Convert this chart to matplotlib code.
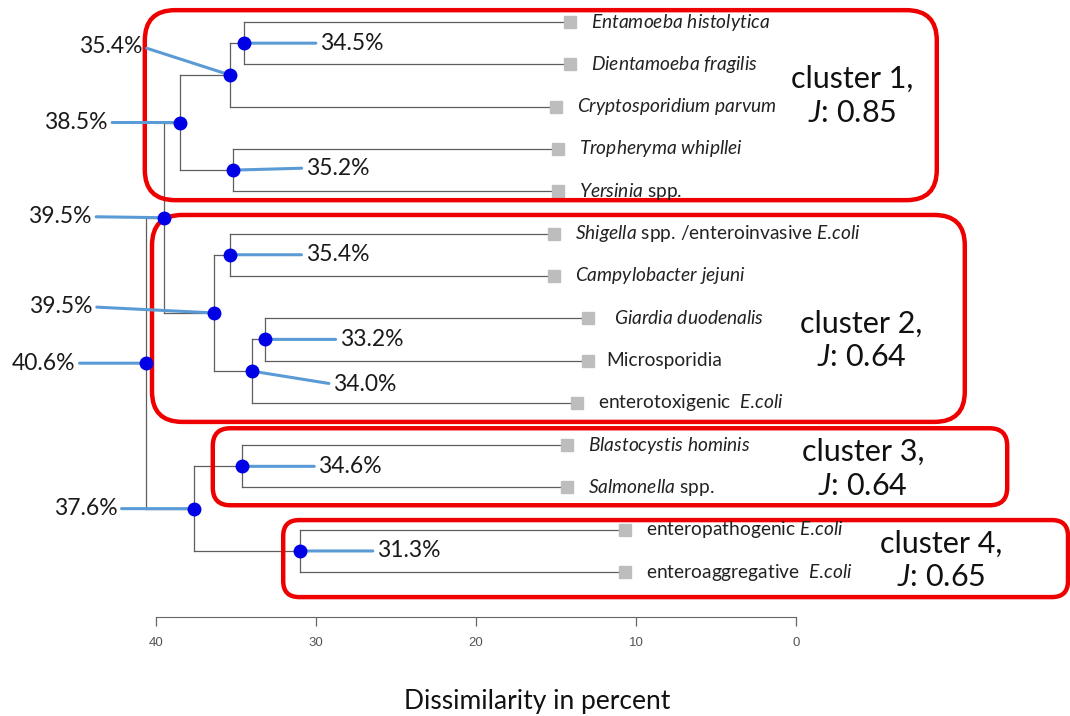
import matplotlib
matplotlib.use("Agg")
import matplotlib.pyplot as plt
from matplotlib.patches import FancyBboxPatch

plt.rcParams["font.family"] = ["Lato", "DejaVu Sans"]
plt.rcParams["mathtext.fontset"] = "custom"
plt.rcParams["mathtext.rm"] = "Lato"
plt.rcParams["mathtext.it"] = "Lato:italic"

# leaves, top to bottom
leaf_labels = [
    r"$\mathit{Entamoeba}$ $\mathit{histolytica}$",
    r"$\mathit{Dientamoeba}$ $\mathit{fragilis}$",
    r"$\mathit{Cryptosporidium}$ $\mathit{parvum}$",
    r"$\mathit{Tropheryma}$ $\mathit{whipllei}$",
    r"$\mathit{Yersinia}$ spp.",
    r"$\mathit{Shigella}$ spp. /enteroinvasive $\mathit{E.\!coli}$",
    r"$\mathit{Campylobacter}$ $\mathit{jejuni}$",
    r"$\mathit{Giardia}$ $\mathit{duodenalis}$",
    "Microsporidia",
    r"enterotoxigenic  $\mathit{E.\!coli}$",
    r"$\mathit{Blastocystis}$ $\mathit{hominis}$",
    r"$\mathit{Salmonella}$ spp.",
    r"enteropathogenic $\mathit{E.\!coli}$",
    r"enteroaggregative  $\mathit{E.\!coli}$",
]
leaf_heights = [14.1, 14.1, 15.0, 14.9, 14.9, 15.1, 15.1, 13.0, 13.0, 13.7, 14.3, 14.3, 10.7, 10.7]

# merges: ids 0-13 are leaves, merge k creates node 14 + k
merge_left = [0, 14, 3, 15, 5, 7, 19, 18, 17, 10, 12, 23, 22]
merge_right = [1, 2, 4, 16, 6, 8, 9, 20, 21, 11, 13, 24, 25]
merge_heights = [34.5, 35.4, 35.2, 38.5, 35.4, 33.2, 34.0, 36.4, 39.5, 34.6, 31.0, 37.6, 40.6]
merge_labels = ["34.5%", "35.4%", "35.2%", "38.5%", "35.4%", "33.2%", "34.0%",
                "39.5%", "39.5%", "34.6%", "31.3%", "37.6%", "40.6%"]

cluster_names = ["cluster 1,", "cluster 2,", "cluster 3,", "cluster 4,"]
cluster_j = ["0.85", "0.64", "0.64", "0.65"]
cluster_first = [0, 5, 10, 12]
cluster_last = [4, 9, 11, 13]

# label offsets (pixels) from each node
label_offsets = [(76, 0), (-87, 28), (73, 2), (-72, 0), (76, 0), (75, 0), (81, -13),
                 (-121, 6), (-72, 1), (76, 0), (77, 0), (-77, 0), (-71, 0)]
# box: x left, x right, top pad, bottom pad, corner
box_layout = [(40.7, -8.8, 0.28, 0.21, 1.9), (40.25, -10.55, 0.44, 0.45, 1.9),
              (36.45, -13.2, 0.4, 0.42, 1.1), (32.05, -17.0, 0.23, 0.59, 1.0)]
cluster_text_pos = [(-3.5, 1.74), (-4.1, 7.52), (-4.2, 10.56), (-9.1, 12.72)]

fig = plt.figure(figsize=(10.7, 7.16), dpi=100)
ax = fig.add_axes([0, 0, 1, 1])
ax.set_xlim(49.75, -17.125)
ax.set_ylim(16.40, -0.52)

line_col = "#5e5e5e"
heights = list(leaf_heights)
ys = list(range(len(leaf_labels)))
for l, r, h in zip(merge_left, merge_right, merge_heights):
    yl, yr = ys[l], ys[r]
    ax.plot([h, h], [yl, yr], color=line_col, lw=0.9, zorder=1)
    ax.plot([h, heights[l]], [yl, yl], color=line_col, lw=0.9, zorder=1)
    ax.plot([h, heights[r]], [yr, yr], color=line_col, lw=0.9, zorder=1)
    heights.append(h)
    ys.append((yl + yr) / 2)

n = len(leaf_labels)
ax.plot(leaf_heights, ys[:n], ls="none", marker="s", ms=8, color="#bdbdbd", zorder=2)
for i, lab in enumerate(leaf_labels):
    dx = {7: 26, 8: 18}.get(i, 21)
    ax.annotate(lab, xy=(leaf_heights[i], i), xytext=(dx, 0), textcoords="offset pixels",
                ha="left", va="center", fontsize=13.8, color="#222222")

node_x = heights[n:]
node_y = ys[n:]
for h, y, lab, (dx, dy) in zip(node_x, node_y, merge_labels, label_offsets):
    side = 0 if dx > 0 else 1
    ax.annotate(lab, xy=(h, y), xytext=(dx, dy), textcoords="offset pixels",
                ha="left" if dx > 0 else "right", va="center", fontsize=16.5, color="#1a1a1a",
                arrowprops=dict(arrowstyle="-", color="#5b9bd5", lw=2.2,
                                shrinkA=1, shrinkB=0, relpos=(side, 0.5)),
                zorder=3)
ax.plot(node_x, node_y, ls="none", marker="o", ms=9, color="#0000e6", zorder=4)

# red cluster boxes
x_px = fig.get_figwidth() * fig.dpi / abs(ax.get_xlim()[1] - ax.get_xlim()[0])
y_px = fig.get_figheight() * fig.dpi / abs(ax.get_ylim()[1] - ax.get_ylim()[0])
for k in range(len(cluster_names)):
    xl, xr, pt, pb, rad = box_layout[k]
    y0 = cluster_first[k] - pt
    y1 = cluster_last[k] + pb
    box = FancyBboxPatch((xr, y0), xl - xr, y1 - y0,
                         boxstyle=f"round,pad=0,rounding_size={rad}",
                         mutation_aspect=x_px / y_px,
                         fc="none", ec="#ee0000", lw=3.2, zorder=2.5)
    ax.add_patch(box)
    tx, ty = cluster_text_pos[k]
    ax.text(tx, ty, cluster_names[k] + "\n" + r"$\mathit{J}$: " + cluster_j[k],
            ha="center", va="center", fontsize=22, linespacing=1.25, color="#111111")

# axis
for s in ["top", "left", "right"]:
    ax.spines[s].set_visible(False)
ax.spines["bottom"].set_position(("data", 14.06))
ax.spines["bottom"].set_bounds(0, 40)
ax.spines["bottom"].set_color("#666666")
ax.set_xticks([0, 10, 20, 30, 40])
ax.set_yticks([])
ax.tick_params(axis="x", direction="out", length=6.5, width=0.9, color="#666666",
               pad=8, labelsize=9.5, labelcolor="#555555")
for t in ax.get_xticklabels():
    t.set_fontfamily("Liberation Sans")

fig.text(537 / 1070, 1 - 701 / 716, "Dissimilarity in percent", ha="center", va="center",
         fontsize=19, color="#111111")

fig.savefig("out.png", dpi=100)
